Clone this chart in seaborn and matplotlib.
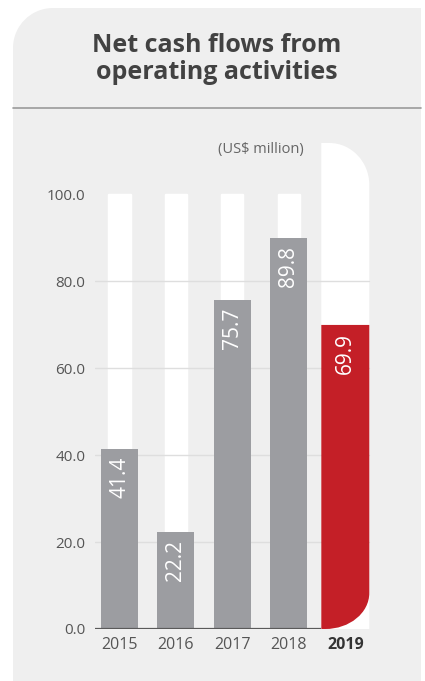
import matplotlib
matplotlib.use("Agg")
import matplotlib.pyplot as plt
from matplotlib.path import Path
from matplotlib.patches import PathPatch
import seaborn as sns
import pandas as pd

# Net cash flows from operating activities (US$ million)
years = ["2015", "2016", "2017", "2018", "2019"]
cash_flows = [41.4, 22.2, 75.7, 89.8, 69.9]
y_ticks = [0, 20, 40, 60, 80, 100]
y_tick_labels = ["0.0", "20.0", "40.0", "60.0", "80.0", "100.0"]

GREY_BAR = "#9c9da1"
RED_BAR = "#c41f27"
PANEL = "#efefef"
TEXT = "#555555"

sns.set_theme(style="white")
plt.rcParams["font.family"] = ["Open Sans", "DejaVu Sans"]

W, H = 425, 681
fig = plt.figure(figsize=(W / 100, H / 100), dpi=100, facecolor="white")

# ---- background panel with rounded top-left corner (pixel coordinates) ----
bg = fig.add_axes([0, 0, 1, 1])
bg.set_xlim(0, W)
bg.set_ylim(H, 0)
bg.axis("off")
L, R, T, B, rad = 13, 421, 8, 681, 40
k = 0.5523
panel_path = Path(
    [(L, B), (L, T + rad), (L, T + rad - k * rad), (L + rad - k * rad, T), (L + rad, T),
     (R, T), (R, B), (L, B)],
    [Path.MOVETO, Path.LINETO, Path.CURVE4, Path.CURVE4, Path.CURVE4,
     Path.LINETO, Path.LINETO, Path.CLOSEPOLY],
)
bg.add_patch(PathPatch(panel_path, facecolor=PANEL, edgecolor="none"))
bg.plot([L, R], [108, 108], color="#9a9a9a", lw=1.2)
bg.text((L + R) / 2, 59, "Net cash flows from\noperating activities", ha="center",
        va="center", fontsize=18, fontweight="bold", color="#424242", linespacing=1.15)

# ---- chart axes ----
px_x = 56.45          # pixels per category step
px_y = 4.35           # pixels per US$ million
x_left_px, x_right_px = 95, 380
bottom_px, top_px = 629, 107
center0_px = 119.5
ax = fig.add_axes([x_left_px / W, (H - bottom_px) / H,
                   (x_right_px - x_left_px) / W, (bottom_px - top_px) / H])
ax.patch.set_alpha(0)

df = pd.DataFrame({"year": years, "value": cash_flows})
palette = [GREY_BAR] * (len(years) - 1) + [RED_BAR]
sns.barplot(data=df, x="year", y="value", hue="year", palette=palette, legend=False,
            width=0.656, saturation=1, linewidth=0, ax=ax, zorder=3)

ax.set_xlim(-(center0_px - x_left_px) / px_x, (x_right_px - center0_px) / px_x)
ax.set_ylim(0, (bottom_px - top_px) / px_y)

n = len(years)
# white guide columns behind the earlier years
ax.bar(range(n - 1), [y_ticks[-1]] * (n - 1), width=0.39, color="white", zorder=0.5)

# highlighted latest year: white column with rounded top-right, red bar with rounded bottom-right
last = ax.patches[n - 1]
val = last.get_height()
last.remove()
c = n - 1
hw = 0.85 / 2
x0, x1 = c - hw, c + hw
col_top = (bottom_px - 143) / px_y
rx, ry = 40 / px_x, 42 / px_y
col_path = Path(
    [(x0, 0), (x0, col_top), (x1 - rx, col_top), (x1 - rx + k * rx, col_top),
     (x1, col_top - ry + k * ry), (x1, col_top - ry), (x1, 0), (x0, 0)],
    [Path.MOVETO, Path.LINETO, Path.LINETO, Path.CURVE4, Path.CURVE4, Path.CURVE4,
     Path.LINETO, Path.CLOSEPOLY],
)
ax.add_patch(PathPatch(col_path, facecolor="white", edgecolor="none", zorder=0.5))
rx2, ry2 = 44 / px_x, 36 / px_y
red_path = Path(
    [(x0, 0), (x0, val), (x1, val), (x1, ry2), (x1, ry2 - k * ry2),
     (x1 - rx2 + k * rx2, 0), (x1 - rx2, 0), (x0, 0)],
    [Path.MOVETO, Path.LINETO, Path.LINETO, Path.LINETO, Path.CURVE4, Path.CURVE4,
     Path.CURVE4, Path.CLOSEPOLY],
)
ax.add_patch(PathPatch(red_path, facecolor=RED_BAR, edgecolor="none", zorder=3))

# gridlines and baseline
grid_right = x1
for t in y_ticks[1:-1]:
    ax.plot([ax.get_xlim()[0], grid_right], [t, t], color="#dedede", lw=1, zorder=1)
ax.plot([ax.get_xlim()[0], x0], [0, 0], color="#5a5a5a", lw=1.6, zorder=4,
        solid_capstyle="butt")

# value labels inside the bars, reading upwards
for i, v in enumerate(cash_flows):
    ax.text(i, v - 8 / px_y, f"{v:.1f}", rotation=90, ha="center", va="top",
            color="white", fontsize=15, zorder=5)

ax.text(x0 - 18 / px_x, col_top + 1 / px_y, "(US$ million)", ha="right", va="top",
        fontsize=10.5, color="#666666")

ax.set_yticks(y_ticks)
ax.set_yticklabels(y_tick_labels)
ax.set_xlabel("")
ax.set_ylabel("")
ax.tick_params(axis="y", length=0, pad=7, labelsize=11, labelcolor=TEXT)
ax.tick_params(axis="x", length=0, pad=6, labelsize=11.5, labelcolor=TEXT)
for lbl in ax.get_xticklabels():
    if lbl.get_text() == years[-1]:
        lbl.set_fontweight("bold")
        lbl.set_color("#333333")
for s in ax.spines.values():
    s.set_visible(False)

fig.savefig("out.png", dpi=100, facecolor="white")
